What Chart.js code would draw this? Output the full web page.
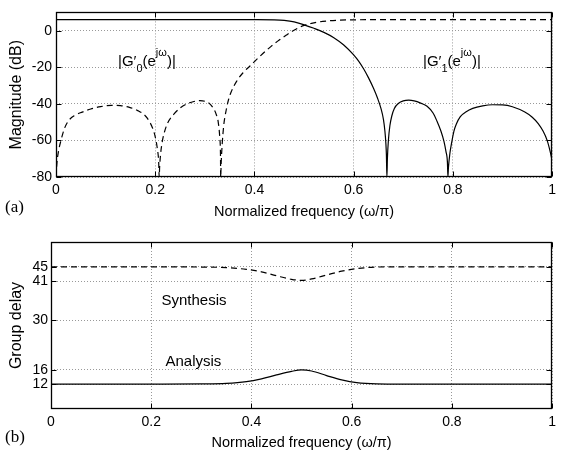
<!DOCTYPE html>
<html><head><meta charset="utf-8">
<script src="https://cdn.jsdelivr.net/npm/chart.js@4.4.1/dist/chart.umd.min.js"></script>
<style>
html,body{margin:0;padding:0;background:#fff;}
#wrap{position:relative;width:561px;height:456px;overflow:hidden;font-family:"Liberation Sans",Arial,sans-serif;}
canvas{position:absolute;left:0;}
.lbl{position:absolute;font-size:15px;line-height:15px;color:#000;white-space:nowrap;}
.lbl sub{font-size:11px;vertical-align:-6px;line-height:0;}
.lbl sup{font-size:11px;vertical-align:10px;line-height:0;}
.panel{position:absolute;font-family:"Liberation Serif","Times New Roman",serif;font-size:17px;line-height:17px;color:#000;}
</style></head>
<body><div id="wrap">
<canvas id="c1" width="561" height="230" style="top:0"></canvas>
<canvas id="c2" width="561" height="226" style="top:230px"></canvas>
<div class="lbl" style="left:118px;top:51.5px">|G′<sub>0</sub>(e<sup>jω</sup>)|</div>
<div class="lbl" style="left:423px;top:51.5px">|G′<sub>1</sub>(e<sup>jω</sup>)|</div>
<div class="lbl" style="left:161.5px;top:291.5px">Synthesis</div>
<div class="lbl" style="left:165.5px;top:352.5px">Analysis</div>
<div class="panel" style="left:5px;top:197.5px">(a)</div>
<div class="panel" style="left:5px;top:427.5px">(b)</div>
</div>
<script>
// ---- (a) magnitude responses ----
const lowFreq = [0, 0.1, 0.2, 0.3, 0.4, 0.44, 0.46, 0.48, 0.5, 0.52, 0.54, 0.56, 0.58, 0.6, 0.61, 0.62, 0.63, 0.64, 0.648, 0.655, 0.66, 0.663, 0.665, 0.666, 0.667,
  0.668, 0.67, 0.673, 0.677, 0.682, 0.69, 0.70, 0.711, 0.722, 0.735, 0.748, 0.76, 0.768, 0.776, 0.782, 0.786, 0.789, 0.79,
  0.791, 0.794, 0.797, 0.802, 0.807, 0.815, 0.826, 0.84, 0.86, 0.88, 0.9, 0.92, 0.945, 0.96, 0.972, 0.982, 0.99, 0.996, 1.0];
const lowMag = [6.02, 6.02, 6.02, 6.02, 6.0, 5.9, 5.6, 4.8, 3.2, 1.3, -0.9, -3.8, -7.8, -13.2, -16.6, -20.8, -25.8, -31.5, -36.8, -42.5, -48.5, -55, -62, -68, -80,
  -70, -60, -52, -46.5, -42.5, -39.8, -38.4, -38, -38.4, -39.6, -41.3, -45, -49.5, -55, -60.5, -66, -72, -80,
  -75, -67, -62, -55, -51, -47, -44.5, -42.5, -41.1, -40.5, -40.6, -41.6, -44.5, -47.3, -50.8, -55, -60, -66, -71];

const highFreq = [0, 0.002, 0.005, 0.01, 0.017, 0.026, 0.038, 0.053, 0.07, 0.09, 0.112, 0.13, 0.148, 0.165, 0.178, 0.188, 0.195, 0.2, 0.204, 0.207, 0.208,
  0.209, 0.211, 0.214, 0.218, 0.225, 0.238, 0.25, 0.264, 0.278, 0.29, 0.3, 0.31, 0.318, 0.323, 0.327, 0.33, 0.3315, 0.332,
  0.333, 0.335, 0.338, 0.343, 0.348, 0.353, 0.364, 0.377, 0.391, 0.404, 0.417, 0.433, 0.45, 0.465, 0.477, 0.49, 0.5, 0.515, 0.53, 0.55, 0.57, 0.6, 0.65, 0.8, 1.0];
const highMag = [-80, -72, -66, -60, -53.5, -49, -46.3, -44.5, -42.8, -41.5, -40.8, -41, -41.9, -43.7, -46, -49.5, -53.5, -58, -64, -72, -80,
  -74, -67, -61, -56, -50.5, -45.5, -42.3, -40, -38.7, -38.2, -38.6, -40, -42.8, -45.8, -50, -58, -67, -80,
  -72, -62, -52, -43.5, -37.5, -33.5, -27.7, -23, -19.3, -15.8, -12.5, -8.7, -5.1, -2.3, -0.2, 1.7, 2.9, 4, 4.8, 5.4, 5.75, 5.95, 6.02, 6.02, 6.02];

const freqTicks = [0, 0.2, 0.4, 0.6, 0.8, 1];
const magTicks = [-80, -60, -40, -20, 0];

// ---- (b) group delay ----
const gdFreq = [0, 0.1, 0.2, 0.3, 0.35, 0.39, 0.42, 0.45, 0.48, 0.5, 0.52, 0.55, 0.58, 0.61, 0.65, 0.7, 0.8, 0.9, 1.0];
const gdSynthesis = [45, 45, 45, 44.95, 44.8, 44.3, 43.6, 42.5, 41.5, 41.2, 41.6, 42.7, 43.8, 44.5, 44.95, 45, 45, 45, 45];
const gdAnalysis = [12, 12, 12, 12.05, 12.2, 12.7, 13.5, 14.6, 15.6, 16, 15.7, 14.4, 13.2, 12.4, 12.05, 12, 12, 12, 12];
const gdTicks = [12, 16, 30, 41, 45];

Chart.defaults.font.family = '"Liberation Sans", Arial, sans-serif';
Chart.defaults.font.size = 14;
Chart.defaults.color = '#000';

const framePlugin = {
  id: 'frame',
  afterDatasetsDraw(chart) {
    const {ctx, chartArea, scales} = chart;
    const L = Math.round(chartArea.left) + 0.5, R = Math.round(chartArea.right) - 0.5;
    const T = Math.round(chartArea.top) + 0.5, B = Math.round(chartArea.bottom) - 0.5;
    ctx.save();
    ctx.setLineDash([]);
    ctx.strokeStyle = '#000';
    ctx.lineWidth = 1;
    ctx.beginPath();
    const tl = 5;
    scales.x.ticks.forEach(t => {
      const px = Math.round(scales.x.getPixelForValue(t.value)) + 0.5;
      ctx.moveTo(px, B); ctx.lineTo(px, B - tl);
      ctx.moveTo(px, T); ctx.lineTo(px, T + tl);
    });
    scales.y.ticks.forEach(t => {
      const py = Math.round(scales.y.getPixelForValue(t.value)) + 0.5;
      ctx.moveTo(L, py); ctx.lineTo(L + tl, py);
      ctx.moveTo(R, py); ctx.lineTo(R - tl, py);
    });
    ctx.stroke();
    ctx.lineWidth = 1.3;
    ctx.strokeRect(L, T, R - L, B - T);
    ctx.restore();
  }
};

function pts(xs, ys) { return xs.map((x, i) => ({x: x, y: ys[i]})); }

function lineDS(data, dashed) {
  return {
    data: data, borderColor: '#000', borderWidth: 1.2, pointRadius: 0,
    borderDash: dashed ? [6, 4] : [], fill: false, cubicInterpolationMode: 'monotone'
  };
}

function makeChart(id, cfg) {
  return new Chart(document.getElementById(id), {
    type: 'line',
    data: {datasets: cfg.datasets},
    options: {
      responsive: false, maintainAspectRatio: false, animation: false, devicePixelRatio: 1,
      layout: {padding: cfg.padding},
      plugins: {legend: {display: false}, tooltip: {enabled: false}},
      scales: {
        x: {
          type: 'linear', min: 0, max: 1,
          afterBuildTicks: s => { s.ticks = freqTicks.map(v => ({value: v})); },
          afterFit: s => { s.height = cfg.xHeight; },
          ticks: {autoSkip: false, maxRotation: 0, padding: 5, callback: v => String(v)},
          grid: {color: '#999', lineWidth: 1, drawTicks: false},
          border: {display: false, dash: [1, 2]},
          title: {display: true, text: 'Normalized frequency (ω/π)', font: {size: 14.5}, padding: {top: 0, bottom: cfg.xTitlePad}}
        },
        y: {
          type: 'linear', min: cfg.yMin, max: cfg.yMax,
          afterBuildTicks: s => { s.ticks = cfg.yTicks.map(v => ({value: v})); },
          afterFit: s => { s.width = cfg.yWidth; },
          ticks: {autoSkip: false, padding: cfg.yTickPad, callback: v => String(v)},
          grid: {color: '#999', lineWidth: 1, drawTicks: false},
          border: {display: false, dash: [1, 2]},
          title: {display: true, text: cfg.yTitle, font: {size: 16}, padding: {top: 7, bottom: 0}}
        }
      }
    },
    plugins: [framePlugin]
  });
}

makeChart('c1', {
  datasets: [lineDS(pts(lowFreq, lowMag), false), lineDS(pts(highFreq, highMag), true)],
  padding: {top: 9, right: 1, left: 0, bottom: 0},
  xHeight: 53, yWidth: 56, xTitlePad: 9.3, yTickPad: 4,
  yMin: -80, yMax: 10, yTicks: magTicks, yTitle: 'Magnitude (dB)'
});

makeChart('c2', {
  datasets: [lineDS(pts(gdFreq, gdSynthesis), true), lineDS(pts(gdFreq, gdAnalysis), false)],
  padding: {top: 12, right: 5, left: 0, bottom: 0},
  xHeight: 47, yWidth: 51, xTitlePad: 4.7, yTickPad: 3,
  yMin: 5, yMax: 52, yTicks: gdTicks, yTitle: 'Group delay'
});
</script>
</body></html>
